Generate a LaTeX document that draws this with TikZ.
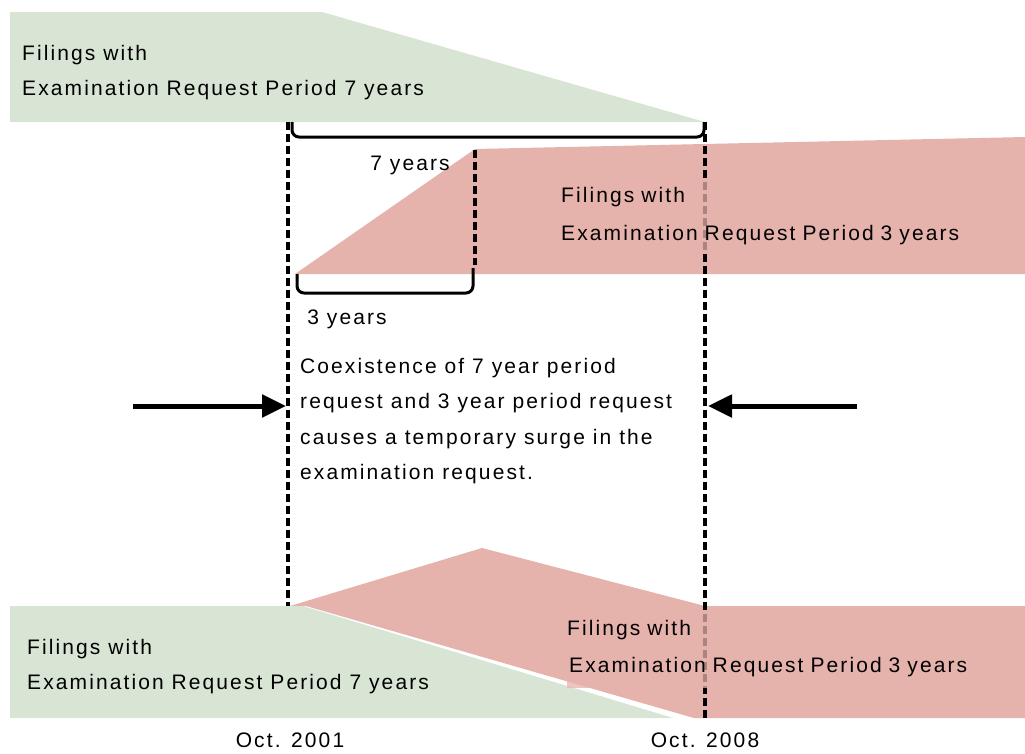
\documentclass[tikz,border=0pt]{standalone}
\usepackage{fontspec}
\setmainfont{Liberation Sans}[LetterSpace=10]
\usetikzlibrary{arrows.meta}

\definecolor{greenband}{RGB}{216,229,212}
\definecolor{pinkband}{RGB}{229,178,172}

\begin{document}
\begin{tikzpicture}[x=1pt,y=-1pt,
  lbl/.style={font=\fontsize{21}{35}\selectfont, align=left, inner sep=0pt, anchor=west},
  boxlbl/.style={lbl, fill=pinkband, fill opacity=0.75, text opacity=1, inner xsep=2pt, text width=#1, minimum height=34pt},
  period/.style={line width=4.5pt, dash pattern=on 8pt off 4pt},
  brace/.style={line width=3pt, rounded corners=7pt},
  push/.style={line width=5pt, -{Triangle[length=24pt,width=22pt]}}]

  \useasboundingbox (0,0) rectangle (1025,753);

  % bands
  \fill[greenband] (10,12) -- (322,12) -- (705,122) -- (10,122) -- cycle;
  \fill[pinkband] (295,274) -- (475,149) -- (1025,137) -- (1025,274) -- cycle;
  \fill[pinkband] (290,606) -- (482,548) -- (705,606) -- (1025,606) -- (1025,718) -- (694,718) -- (306,606) -- cycle;
  \fill[greenband] (10,606) -- (303,606) -- (673,718) -- (10,718) -- cycle;

  % time marks
  \coordinate (start top) at (288,122);
  \coordinate (start bot) at (288,606);
  \coordinate (end top) at (705,122);
  \coordinate (end bot) at (705,718);
  \coordinate (mid top) at (475,150);
  \coordinate (mid bot) at (475,265);
  \draw[period] (start top) -- (start bot);
  \draw[period] (end top) -- (end bot);
  \draw[period] (mid top) -- (mid bot);

  % braces
  \draw[brace] (292,122) -- (292,137) -- (704,137) -- (704,122);
  \draw[brace] (297,274) -- (297,293) -- (473,293) -- (473,268);
  \node[lbl, anchor=center] (seven) at (410,165) {7 years};
  \node[lbl, anchor=center] (three) at (347,319) {3 years};

  % band labels
  \node[lbl] (old top) at (22,73) {Filings with\\Examination Request Period 7 years};
  \node[lbl] (old bot) at (27,667) {Filings with\\Examination Request Period 7 years};
  \node[boxlbl=358pt] (new top a) at (559,197) {Filings with};
  \node[boxlbl=448pt] (new top b) at (559,235) {Examination Request Period 3 years};
  \node[boxlbl=348pt] (new bot a) at (565,630) {Filings with};
  \node[boxlbl=451pt, minimum height=42pt] (new bot b) at (567,667) {Examination Request Period 3 years};

  \node[lbl, font=\fontsize{21}{35.5}\selectfont] (surge) at (300,421)
    {Coexistence of 7 year period\\request and 3 year period request\\causes a temporary surge in the\\examination request.};

  % arrows
  \coordinate (left tail) at (133,406);
  \coordinate (left head) at (286,406);
  \coordinate (right tail) at (857,406);
  \coordinate (right head) at (708,406);
  \draw[push] (left tail) -- (left head);
  \draw[push] (right tail) -- (right head);

  % dates
  \node[lbl, anchor=center] (oct01) at (290,740) {Oct. 2001};
  \node[lbl, anchor=center] (oct08) at (705,740) {Oct. 2008};
\end{tikzpicture}
\end{document}
